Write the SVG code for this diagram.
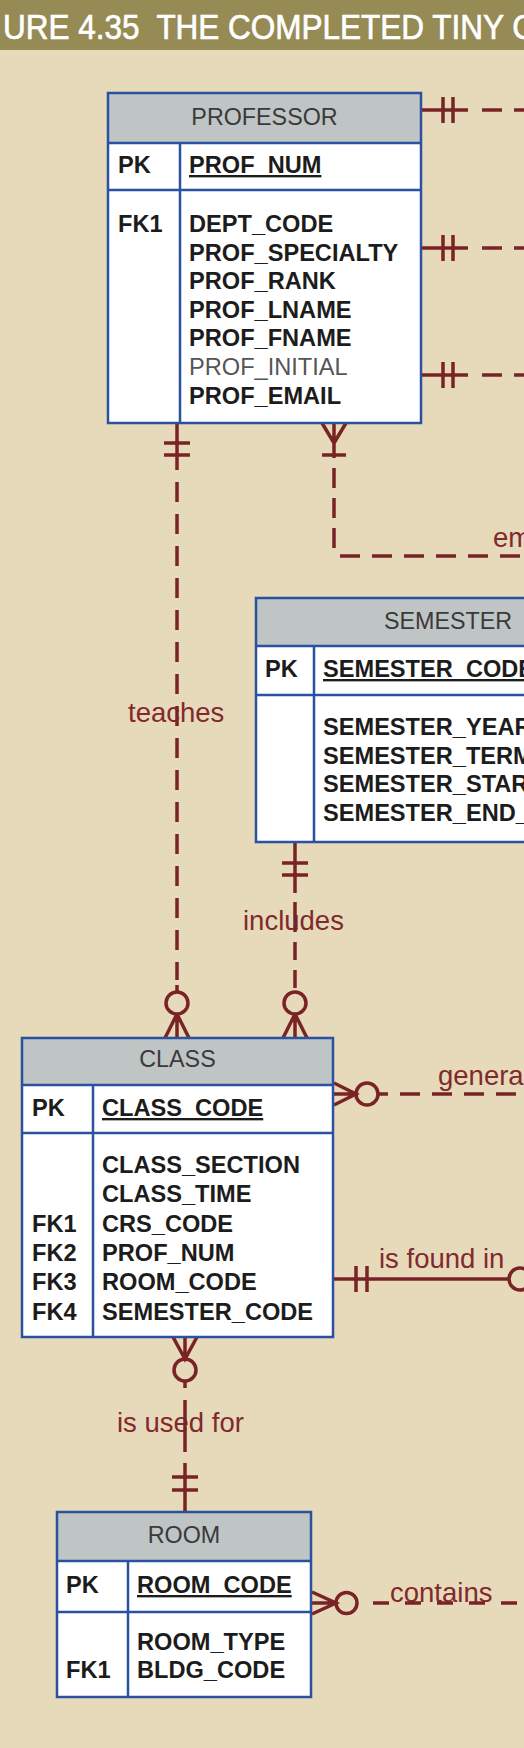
<svg xmlns="http://www.w3.org/2000/svg" width="524" height="1748" viewBox="0 0 524 1748">
<defs>
<style>
.bg{fill:#e6dabb}
.tbar{fill:#968a55}
.ttl{font-family:"Liberation Sans",Arial,sans-serif;font-size:35px;fill:#fff;stroke:#fff;stroke-width:0.7}
.body{fill:#fff}
.hdr{fill:#bfc4c4}
.frm{fill:none;stroke:#2b52a1;stroke-width:2.5}
.sep{fill:none;stroke:#2b52a1;stroke-width:2.5}
.en{font-family:"Liberation Sans",Arial,sans-serif;font-size:23.3px;fill:#3a3a3a;text-anchor:middle}
.at{font-family:"Liberation Sans",Arial,sans-serif;font-size:23.6px;font-weight:bold;fill:#1c1c1c}
.pk{text-decoration:underline}
.rg{font-weight:normal;fill:#555}
.cn{fill:none;stroke:#7a2326;stroke-width:3.5}
.ds{stroke-dasharray:20 12}
.lb{font-family:"Liberation Sans",Arial,sans-serif;font-size:27.5px;fill:#82292d}
</style>
</defs>
<rect class="bg" x="0" y="0" width="524" height="1748"/>
<g id="title">
<rect class="tbar" x="0" y="0" width="524" height="50"/>
<text class="ttl" x="3.3" y="39" transform="scale(0.9 1)" xml:space="preserve">URE 4.35  THE COMPLETED TINY C</text>
</g>

<g id="connectors">
<g id="labels">
<text class="lb" x="128" y="722">teaches</text>
<text class="lb" x="243" y="930">includes</text>
<text class="lb" x="493" y="547">employs</text>
<text class="lb" x="438" y="1085">generates</text>
<text class="lb" x="379" y="1268">is found in</text>
<text class="lb" x="117" y="1432">is used for</text>
<text class="lb" x="390" y="1602">contains</text>
</g>
<!-- professor right side -->
<path class="cn" d="M421 110H468M443 97V123M453 97V123"/>
<path class="cn ds" d="M482 110H524"/>
<path class="cn" d="M421 248H468M443 235V261M453 235V261"/>
<path class="cn ds" d="M482 248H524"/>
<path class="cn" d="M421 375H468M443 362V388M453 362V388"/>
<path class="cn ds" d="M482 375H524"/>
<!-- teaches -->
<path class="cn" d="M177 423V470M164 443H190M164 455H190"/>
<path class="cn ds" d="M177 482V980"/>
<path class="cn" d="M177 985V992"/>
<circle class="cn" cx="177" cy="1003" r="11"/>
<path class="cn" d="M177 1014V1038M177 1014L165 1038M177 1014L189 1038"/>
<!-- employs -->
<path class="cn" d="M334 423V458M322 423L334 443L346 423M322 455H346"/>
<path class="cn" d="M334 468V552" stroke-dasharray="20 10"/>
<path class="cn ds" d="M340 556H524"/>
<!-- includes -->
<path class="cn" d="M295 842V893M282 863H308M282 875H308"/>
<path class="cn" d="M295 902V988" stroke-dasharray="30 10 18 10 18 10"/>
<circle class="cn" cx="295" cy="1003" r="11"/>
<path class="cn" d="M295 1014V1038M295 1014L283 1038M295 1014L307 1038"/>
<!-- generates -->
<path class="cn" d="M334 1083L356 1094L334 1105M334 1094H356"/>
<circle class="cn" cx="367" cy="1094" r="11"/>
<path class="cn" d="M378 1094H388"/>
<path class="cn ds" d="M400 1094H524"/>
<!-- is found in -->
<path class="cn" d="M334 1279H509M356 1266V1292M367 1266V1292"/>
<circle class="cn" cx="520" cy="1279" r="11"/>
<!-- is used for -->
<path class="cn" d="M173 1337L185 1359L197 1337M185 1337V1359"/>
<circle class="cn" cx="185" cy="1370" r="11"/>
<path class="cn" d="M185 1381V1388M185 1400V1452M185 1463V1512M172 1477H198M172 1490H198"/>
<!-- contains -->
<path class="cn" d="M312 1592L336 1603L312 1614M312 1603H336"/>
<circle class="cn" cx="346.5" cy="1603" r="10.5"/>
<path class="cn" d="M373 1603H524" stroke-dasharray="16 16"/>
</g>

<g id="professor">
<rect class="body" x="108" y="93" width="313" height="330"/>
<rect class="hdr" x="108" y="93" width="313" height="50"/>
<path class="sep" d="M108 143H421M108 190H421M180 143V423"/>
<rect class="frm" x="108" y="93" width="313" height="330"/>
<text class="en" x="264.5" y="125">PROFESSOR</text>
<text class="at" x="118" y="173">PK</text>
<text class="at pk" x="189" y="173">PROF_NUM</text>
<text class="at" x="118" y="232">FK1</text>
<text class="at" x="189" y="232">DEPT_CODE</text>
<text class="at" x="189" y="260.6">PROF_SPECIALTY</text>
<text class="at" x="189" y="289.2">PROF_RANK</text>
<text class="at" x="189" y="317.8">PROF_LNAME</text>
<text class="at" x="189" y="346.4">PROF_FNAME</text>
<text class="at rg" x="189" y="375">PROF_INITIAL</text>
<text class="at" x="189" y="403.6">PROF_EMAIL</text>
</g>

<g id="semester">
<rect class="body" x="256" y="598" width="385" height="244"/>
<rect class="hdr" x="256" y="598" width="385" height="48"/>
<path class="sep" d="M256 646H641M256 695H641M314 646V842"/>
<rect class="frm" x="256" y="598" width="385" height="244"/>
<text class="en" x="448" y="629">SEMESTER</text>
<text class="at" x="265" y="677">PK</text>
<text class="at pk" x="323" y="677">SEMESTER_CODE</text>
<text class="at" x="323" y="735">SEMESTER_YEAR</text>
<text class="at" x="323" y="763.5">SEMESTER_TERM</text>
<text class="at" x="323" y="792">SEMESTER_START_DATE</text>
<text class="at" x="323" y="821">SEMESTER_END_DATE</text>
</g>

<g id="class">
<rect class="body" x="22" y="1038" width="311" height="299"/>
<rect class="hdr" x="22" y="1038" width="311" height="47"/>
<path class="sep" d="M22 1085H333M22 1133H333M93 1085V1337"/>
<rect class="frm" x="22" y="1038" width="311" height="299"/>
<text class="en" x="177.5" y="1067">CLASS</text>
<text class="at" x="32" y="1116">PK</text>
<text class="at pk" x="102" y="1116">CLASS_CODE</text>
<text class="at" x="102" y="1173">CLASS_SECTION</text>
<text class="at" x="102" y="1202.3">CLASS_TIME</text>
<text class="at" x="32" y="1231.6">FK1</text>
<text class="at" x="102" y="1231.6">CRS_CODE</text>
<text class="at" x="32" y="1260.9">FK2</text>
<text class="at" x="102" y="1260.9">PROF_NUM</text>
<text class="at" x="32" y="1290.2">FK3</text>
<text class="at" x="102" y="1290.2">ROOM_CODE</text>
<text class="at" x="32" y="1319.5">FK4</text>
<text class="at" x="102" y="1319.5">SEMESTER_CODE</text>
</g>

<g id="room">
<rect class="body" x="57" y="1512" width="254" height="185"/>
<rect class="hdr" x="57" y="1512" width="254" height="49"/>
<path class="sep" d="M57 1561H311M57 1612H311M128 1561V1697" stroke-width="2"/>
<rect class="frm" x="57" y="1512" width="254" height="185" stroke-width="2"/>
<text class="en" x="184" y="1543">ROOM</text>
<text class="at" x="66" y="1593">PK</text>
<text class="at pk" x="137" y="1593">ROOM_CODE</text>
<text class="at" x="137" y="1650">ROOM_TYPE</text>
<text class="at" x="66" y="1678">FK1</text>
<text class="at" x="137" y="1678">BLDG_CODE</text>
</g>
</svg>
